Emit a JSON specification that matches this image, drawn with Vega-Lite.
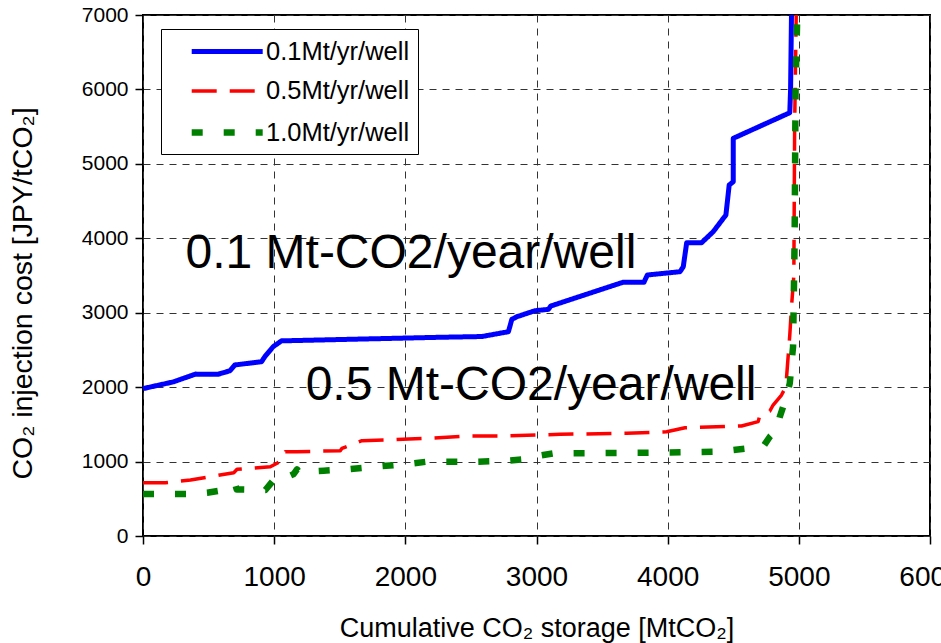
{
  "$schema": "https://vega.github.io/schema/vega-lite/v6.json",
  "width": 787,
  "height": 521,
  "autosize": "none",
  "padding": {"left": 143, "top": 15, "right": 11, "bottom": 107},
  "background": "white",
  "config": {
    "font": "Liberation Sans",
    "view": {"stroke": "#000000", "strokeWidth": 2},
    "axis": {
      "grid": true,
      "gridColor": "#333333",
      "gridDash": [7, 6],
      "gridWidth": 1,
      "gridOpacity": 1,
      "domain": false,
      "tickColor": "#000000",
      "tickSize": 8,
      "tickWidth": 1.5,
      "labelColor": "#000000",
      "titleColor": "#000000",
      "titleFontWeight": "normal"
    },
    "legend": {
      "orient": "none",
      "legendX": 18,
      "legendY": 14,
      "symbolType": "M-3,0H3",
      "symbolSize": 560,
      "symbolOffset": 42.7,
      "labelFont": "Liberation Sans",
      "labelFontSize": 25.5,
      "labelColor": "#000000",
      "labelOffset": 23.3,
      "labelExpr": "datum.label + '\u00a0\u00a0\u00a0'",
      "fillColor": "#ffffff",
      "strokeColor": "#000000",
      "padding": 8,
      "rowPadding": 12
    }
  },
  "datasets": {
    "curves": [
      {"s": "0.1Mt/yr/well", "x": 0, "y": 1980},
      {"s": "0.1Mt/yr/well", "x": 230, "y": 2070},
      {"s": "0.1Mt/yr/well", "x": 400, "y": 2175},
      {"s": "0.1Mt/yr/well", "x": 570, "y": 2172},
      {"s": "0.1Mt/yr/well", "x": 663, "y": 2220},
      {"s": "0.1Mt/yr/well", "x": 700, "y": 2298},
      {"s": "0.1Mt/yr/well", "x": 904, "y": 2342},
      {"s": "0.1Mt/yr/well", "x": 929, "y": 2410},
      {"s": "0.1Mt/yr/well", "x": 992, "y": 2543},
      {"s": "0.1Mt/yr/well", "x": 1056, "y": 2622},
      {"s": "0.1Mt/yr/well", "x": 2266, "y": 2670},
      {"s": "0.1Mt/yr/well", "x": 2583, "y": 2680},
      {"s": "0.1Mt/yr/well", "x": 2786, "y": 2745},
      {"s": "0.1Mt/yr/well", "x": 2812, "y": 2911},
      {"s": "0.1Mt/yr/well", "x": 2850, "y": 2946},
      {"s": "0.1Mt/yr/well", "x": 2989, "y": 3027},
      {"s": "0.1Mt/yr/well", "x": 3091, "y": 3045},
      {"s": "0.1Mt/yr/well", "x": 3109, "y": 3090},
      {"s": "0.1Mt/yr/well", "x": 3657, "y": 3408},
      {"s": "0.1Mt/yr/well", "x": 3819, "y": 3408},
      {"s": "0.1Mt/yr/well", "x": 3845, "y": 3507},
      {"s": "0.1Mt/yr/well", "x": 4094, "y": 3551},
      {"s": "0.1Mt/yr/well", "x": 4119, "y": 3618},
      {"s": "0.1Mt/yr/well", "x": 4145, "y": 3941},
      {"s": "0.1Mt/yr/well", "x": 4259, "y": 3941},
      {"s": "0.1Mt/yr/well", "x": 4347, "y": 4088},
      {"s": "0.1Mt/yr/well", "x": 4444, "y": 4313},
      {"s": "0.1Mt/yr/well", "x": 4469, "y": 4716},
      {"s": "0.1Mt/yr/well", "x": 4500, "y": 4760},
      {"s": "0.1Mt/yr/well", "x": 4500, "y": 5343},
      {"s": "0.1Mt/yr/well", "x": 4931, "y": 5687},
      {"s": "0.1Mt/yr/well", "x": 4937, "y": 5992},
      {"s": "0.1Mt/yr/well", "x": 4944, "y": 7000},
      {"s": "0.5Mt/yr/well", "x": 0, "y": 716},
      {"s": "0.5Mt/yr/well", "x": 171, "y": 716},
      {"s": "0.5Mt/yr/well", "x": 362, "y": 752},
      {"s": "0.5Mt/yr/well", "x": 514, "y": 797},
      {"s": "0.5Mt/yr/well", "x": 692, "y": 851},
      {"s": "0.5Mt/yr/well", "x": 717, "y": 896},
      {"s": "0.5Mt/yr/well", "x": 971, "y": 931},
      {"s": "0.5Mt/yr/well", "x": 1022, "y": 977},
      {"s": "0.5Mt/yr/well", "x": 1060, "y": 1021},
      {"s": "0.5Mt/yr/well", "x": 1085, "y": 1133},
      {"s": "0.5Mt/yr/well", "x": 1174, "y": 1133},
      {"s": "0.5Mt/yr/well", "x": 1504, "y": 1146},
      {"s": "0.5Mt/yr/well", "x": 1517, "y": 1178},
      {"s": "0.5Mt/yr/well", "x": 1669, "y": 1281},
      {"s": "0.5Mt/yr/well", "x": 1860, "y": 1290},
      {"s": "0.5Mt/yr/well", "x": 2164, "y": 1312},
      {"s": "0.5Mt/yr/well", "x": 2469, "y": 1344},
      {"s": "0.5Mt/yr/well", "x": 2774, "y": 1344},
      {"s": "0.5Mt/yr/well", "x": 3180, "y": 1366},
      {"s": "0.5Mt/yr/well", "x": 3688, "y": 1380},
      {"s": "0.5Mt/yr/well", "x": 3992, "y": 1401},
      {"s": "0.5Mt/yr/well", "x": 4132, "y": 1455},
      {"s": "0.5Mt/yr/well", "x": 4563, "y": 1478},
      {"s": "0.5Mt/yr/well", "x": 4690, "y": 1536},
      {"s": "0.5Mt/yr/well", "x": 4703, "y": 1626},
      {"s": "0.5Mt/yr/well", "x": 4779, "y": 1679},
      {"s": "0.5Mt/yr/well", "x": 4804, "y": 1760},
      {"s": "0.5Mt/yr/well", "x": 4868, "y": 1894},
      {"s": "0.5Mt/yr/well", "x": 4901, "y": 2006},
      {"s": "0.5Mt/yr/well", "x": 4931, "y": 2700},
      {"s": "0.5Mt/yr/well", "x": 4945, "y": 3100},
      {"s": "0.5Mt/yr/well", "x": 4962, "y": 3500},
      {"s": "0.5Mt/yr/well", "x": 4968, "y": 5500},
      {"s": "0.5Mt/yr/well", "x": 4980, "y": 7000},
      {"s": "1.0Mt/yr/well", "x": 0, "y": 564},
      {"s": "1.0Mt/yr/well", "x": 387, "y": 564},
      {"s": "1.0Mt/yr/well", "x": 489, "y": 582},
      {"s": "1.0Mt/yr/well", "x": 692, "y": 641},
      {"s": "1.0Mt/yr/well", "x": 705, "y": 685},
      {"s": "1.0Mt/yr/well", "x": 715, "y": 625},
      {"s": "1.0Mt/yr/well", "x": 933, "y": 618},
      {"s": "1.0Mt/yr/well", "x": 996, "y": 752},
      {"s": "1.0Mt/yr/well", "x": 1022, "y": 730},
      {"s": "1.0Mt/yr/well", "x": 1149, "y": 833},
      {"s": "1.0Mt/yr/well", "x": 1174, "y": 896},
      {"s": "1.0Mt/yr/well", "x": 1190, "y": 860},
      {"s": "1.0Mt/yr/well", "x": 1377, "y": 877},
      {"s": "1.0Mt/yr/well", "x": 1580, "y": 900},
      {"s": "1.0Mt/yr/well", "x": 1771, "y": 931},
      {"s": "1.0Mt/yr/well", "x": 2012, "y": 967},
      {"s": "1.0Mt/yr/well", "x": 2164, "y": 998},
      {"s": "1.0Mt/yr/well", "x": 2545, "y": 998},
      {"s": "1.0Mt/yr/well", "x": 2748, "y": 1008},
      {"s": "1.0Mt/yr/well", "x": 2900, "y": 1030},
      {"s": "1.0Mt/yr/well", "x": 2976, "y": 1066},
      {"s": "1.0Mt/yr/well", "x": 3129, "y": 1111},
      {"s": "1.0Mt/yr/well", "x": 3941, "y": 1119},
      {"s": "1.0Mt/yr/well", "x": 4373, "y": 1133},
      {"s": "1.0Mt/yr/well", "x": 4500, "y": 1155},
      {"s": "1.0Mt/yr/well", "x": 4728, "y": 1200},
      {"s": "1.0Mt/yr/well", "x": 4779, "y": 1334},
      {"s": "1.0Mt/yr/well", "x": 4830, "y": 1424},
      {"s": "1.0Mt/yr/well", "x": 4855, "y": 1603},
      {"s": "1.0Mt/yr/well", "x": 4906, "y": 1872},
      {"s": "1.0Mt/yr/well", "x": 4931, "y": 2051},
      {"s": "1.0Mt/yr/well", "x": 4944, "y": 2320},
      {"s": "1.0Mt/yr/well", "x": 4956, "y": 2543},
      {"s": "1.0Mt/yr/well", "x": 4968, "y": 4000},
      {"s": "1.0Mt/yr/well", "x": 4975, "y": 6000},
      {"s": "1.0Mt/yr/well", "x": 4988, "y": 7000}
    ],
    "notes": [
      {"t": "0.1 Mt-CO2/year/well", "x": 324, "y": 3600},
      {"t": "0.5 Mt-CO2/year/well", "x": 1240, "y": 1830}
    ]
  },
  "layer": [
    {
      "data": {"name": "curves"},
      "mark": {"type": "line", "strokeCap": "butt", "strokeJoin": "round"},
      "encoding": {
        "x": {
          "field": "x",
          "type": "quantitative",
          "scale": {"domain": [0, 6000], "nice": false, "zero": false},
          "axis": {
            "values": [0, 1000, 2000, 3000, 4000, 5000, 6000],
            "title": "Cumulative CO₂ storage [MtCO₂]",
            "format": "d",
            "labelFont": "Liberation Sans Narrow, Arial Narrow, Liberation Sans",
            "labelFontSize": 28,
            "labelPadding": 19,
            "labelFlush": false,
            "labelOverlap": false,
            "titleFont": "Liberation Sans Narrow, Arial Narrow, Liberation Sans",
            "titleFontSize": 27,
            "titleBaseline": "alphabetic",
            "titleY": 100
          }
        },
        "y": {
          "field": "y",
          "type": "quantitative",
          "scale": {"domain": [0, 7000], "nice": false, "zero": false},
          "axis": {
            "values": [0, 1000, 2000, 3000, 4000, 5000, 6000, 7000],
            "title": "CO₂ injection cost [JPY/tCO₂]",
            "format": "d",
            "labelFontSize": 21,
            "labelPadding": 7,
            "labelFlush": false,
            "labelOverlap": false,
            "titleFontSize": 28.5,
            "titleBaseline": "middle",
            "titleX": -121,
            "titleY": 278
          }
        },
        "color": {
          "field": "s",
          "type": "nominal",
          "scale": {
            "domain": ["0.1Mt/yr/well", "0.5Mt/yr/well", "1.0Mt/yr/well"],
            "range": ["#0000ff", "#ff0000", "#008000"]
          },
          "legend": {"title": null}
        },
        "strokeDash": {
          "field": "s",
          "type": "nominal",
          "scale": {
            "domain": ["0.1Mt/yr/well", "0.5Mt/yr/well", "1.0Mt/yr/well"],
            "range": [[1, 0], [25, 13], [11, 21]]
          },
          "legend": {"title": null}
        },
        "strokeWidth": {
          "field": "s",
          "type": "nominal",
          "scale": {
            "type": "ordinal",
            "domain": ["0.1Mt/yr/well", "0.5Mt/yr/well", "1.0Mt/yr/well"],
            "range": [5, 3.5, 6.5]
          },
          "legend": {"title": null}
        },
        "order": {"value": null}
      }
    },
    {
      "data": {"name": "notes"},
      "mark": {"type": "text", "align": "left", "baseline": "alphabetic", "fontSize": 48, "font": "Liberation Sans", "color": "#000000"},
      "encoding": {
        "x": {"field": "x", "type": "quantitative"},
        "y": {"field": "y", "type": "quantitative"},
        "text": {"field": "t"}
      }
    }
  ]
}
